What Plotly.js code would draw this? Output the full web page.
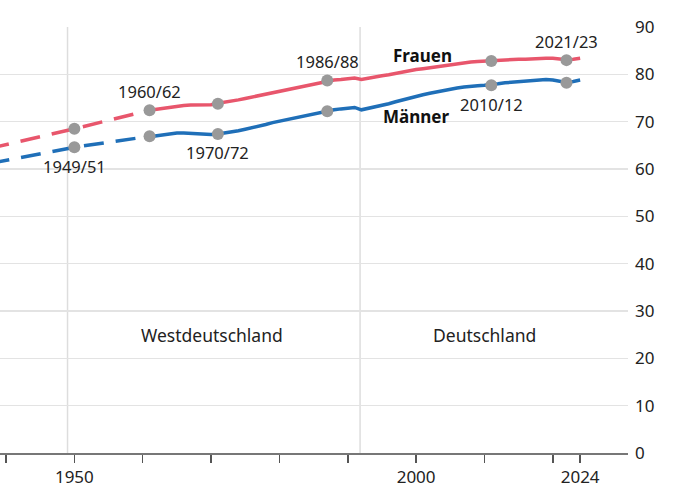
<!DOCTYPE html>
<html>
<head>
<meta charset="utf-8">
<script src="https://cdn.plot.ly/plotly-3.0.1.min.js"></script>
<style>
html,body{margin:0;padding:0;background:#fff;}
#chart{width:690px;height:494px;}
</style>
</head>
<body>
<div id="chart"></div>
<script>
// Early period (dashed, sparse life tables)
const earlyYears = [1933, 1950, 1961];
const earlyFrauen = [62.8, 68.5, 72.4];
const earlyMaenner = [59.9, 64.6, 66.9];

// Annual series (solid)
const years = [1961,1962,1963,1964,1965,1966,1967,1968,1969,1970,
  1971,1972,1973,1974,1975,1976,1977,1978,1979,1980,
  1981,1982,1983,1984,1985,1986,1987,1988,1989,1990,
  1991,1992,1993,1994,1995,1996,1997,1998,1999,2000,
  2001,2002,2003,2004,2005,2006,2007,2008,2009,2010,
  2011,2012,2013,2014,2015,2016,2017,2018,2019,2020,
  2021,2022,2023,2024];
const frauen = [72.4,72.6,72.8,73.1,73.3,73.4,73.5,73.5,73.5,73.6,
  73.9,74.1,74.3,74.6,74.9,75.2,75.6,75.9,76.2,76.5,
  76.8,77.1,77.3,77.6,77.9,78.2,78.6,78.8,78.9,79.0,
  79.2,78.9,79.2,79.4,79.7,79.9,80.2,80.5,80.8,81.0,
  81.2,81.4,81.6,81.9,82.1,82.3,82.5,82.6,82.7,82.8,
  82.9,83.0,83.1,83.1,83.2,83.2,83.3,83.3,83.4,83.4,
  83.3,83.1,83.2,83.4];
const maenner = [66.8,67.0,67.2,67.4,67.6,67.6,67.5,67.4,67.3,67.3,
  67.4,67.6,67.8,68.1,68.4,68.7,69.1,69.4,69.8,70.1,
  70.4,70.8,71.1,71.4,71.7,72.0,72.3,72.5,72.7,72.8,
  73.0,72.5,72.8,73.1,73.5,73.8,74.2,74.6,75.0,75.4,
  75.7,76.0,76.3,76.6,76.9,77.1,77.3,77.5,77.6,77.7,
  77.8,78.0,78.2,78.3,78.4,78.5,78.7,78.8,78.9,78.8,
  78.5,78.3,78.5,78.8];

// Complete life tables (markers)
const tableYears = [1950, 1961, 1971, 1987, 2011, 2022];
const tableLabels = ["1949/51", "1960/62", "1970/72", "1986/88", "2010/12", "2021/23"];
const tableFrauen = [68.5, 72.4, 73.8, 78.7, 82.8, 83.0];
const tableMaenner = [64.6, 66.9, 67.4, 72.2, 77.7, 78.2];
// which series each label belongs to (above women / below men)
const labelSide = ["m", "f", "m", "f", "m", "f"];

const periodBounds = [1949, 1991.8];
const regions = [{text: "Westdeutschland", x: 1970.2}, {text: "Deutschland", x: 2010}];

const xTickVals = [1940,1950,1960,1970,1980,1990,2000,2010,2020,2024];
const xTickText = ["","1950","","","","","2000","","","2024"];

const RED = "#e8566c", BLUE = "#1f6fb8", GREY = "#999999";
const FONT = "Noto Sans, DejaVu Sans, sans-serif";

const traces = [
  {x: earlyYears, y: earlyFrauen, mode: "lines", line: {color: RED, width: 3.5, dash: "20px,12px"}, hoverinfo: "skip"},
  {x: earlyYears, y: earlyMaenner, mode: "lines", line: {color: BLUE, width: 3.5, dash: "20px,12px"}, hoverinfo: "skip"},
  {x: years, y: frauen, mode: "lines", line: {color: RED, width: 3.5}},
  {x: years, y: maenner, mode: "lines", line: {color: BLUE, width: 3.5}},
  {x: tableYears, y: tableFrauen, mode: "markers", marker: {color: GREY, size: 12}},
  {x: tableYears, y: tableMaenner, mode: "markers", marker: {color: GREY, size: 12}}
];

const annotations = [];
tableYears.forEach((yr, i) => {
  const isF = labelSide[i] === "f";
  annotations.push({
    x: yr, y: isF ? tableFrauen[i] : tableMaenner[i],
    text: tableLabels[i], showarrow: false,
    yshift: isF ? 19 : -19,
    font: {family: FONT, size: 16.5, color: "#222"}
  });
});
const i2000 = years.indexOf(2000);
annotations.push({x: years[i2000], y: frauen[i2000], text: "<b>Frauen</b>", showarrow: false,
  xshift: 6, yshift: 14, font: {family: FONT, size: 17, color: "#111"}});
annotations.push({x: years[i2000], y: maenner[i2000], text: "<b>Männer</b>", showarrow: false,
  xshift: 0, yshift: -20, font: {family: FONT, size: 17, color: "#111"}});
regions.forEach(r => annotations.push({x: r.x, y: 25, text: r.text, showarrow: false,
  font: {family: FONT, size: 17.5, color: "#222"}}));

const shapes = periodBounds.map(b => ({type: "line", xref: "x", yref: "paper", x0: b, x1: b, y0: 0, y1: 1,
  line: {color: "#dddddd", width: 1.5}, layer: "below"}));

const layout = {
  width: 690, height: 494,
  margin: {l: 0, r: 62, t: 27, b: 41, pad: 0},
  paper_bgcolor: "#fff", plot_bgcolor: "#fff",
  showlegend: false,
  font: {family: FONT, size: 16, color: "#222"},
  xaxis: {
    range: [1939.12, 2031], showgrid: false, zeroline: false,
    showline: true, linecolor: "#777", linewidth: 2,
    tickmode: "array", tickvals: xTickVals, ticktext: xTickText,
    ticks: "outside", ticklen: 8, tickwidth: 1.5, tickcolor: "#555",
    tickfont: {family: FONT, size: 17, color: "#222"}
  },
  yaxis: {
    range: [0, 90], side: "right", dtick: 10, tick0: 0,
    showgrid: true, gridcolor: "#e3e3e3", gridwidth: 1.2,
    zeroline: false, showline: false, ticks: "",
    ticklabelstandoff: 6,
    tickfont: {family: FONT, size: 17, color: "#222"}
  },
  shapes: shapes,
  annotations: annotations
};

Plotly.newPlot("chart", traces, layout, {displayModeBar: false, staticPlot: true});
</script>
</body>
</html>
